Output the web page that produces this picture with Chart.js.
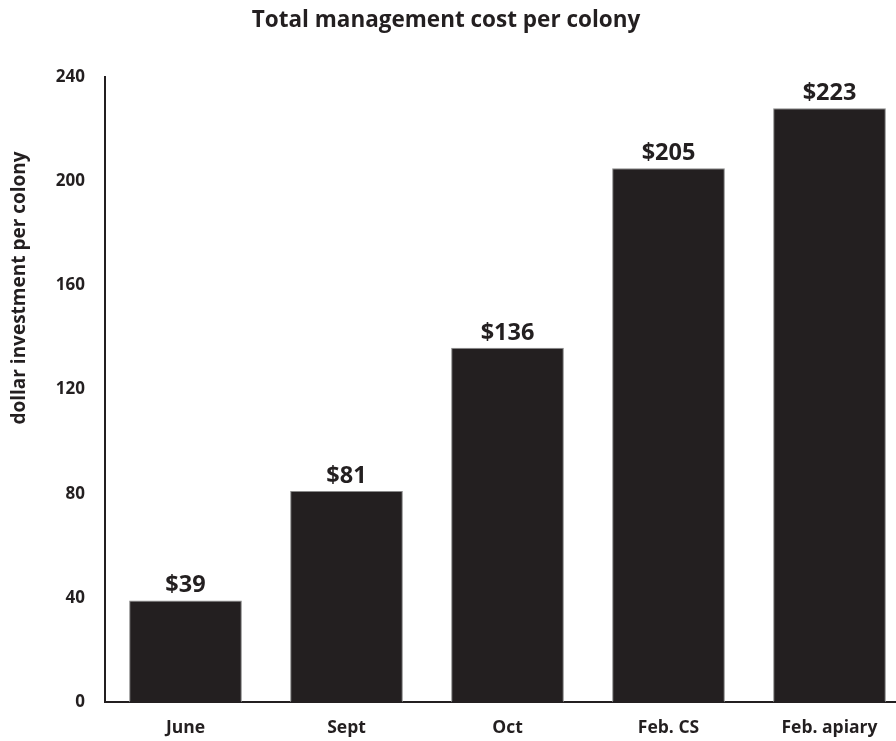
<!DOCTYPE html>
<html>
<head>
<meta charset="utf-8">
<script src="https://cdn.jsdelivr.net/npm/chart.js@4"></script>
<style>
  html, body { margin: 0; padding: 0; background: #fff; overflow: hidden; }
  #wrap { width: 910px; height: 741px; position: relative; }
</style>
</head>
<body>
<div id="wrap"><canvas id="c"></canvas></div>
<script>
// values
const categories = ['June', 'Sept', 'Oct', 'Feb. CS', 'Feb. apiary'];
const barValues = [39, 81, 136, 205, 228];
const valueLabels = ['$39', '$81', '$136', '$205', '$223'];
const yTicks = [0, 40, 80, 120, 160, 200, 240];

const FONT = "'Open Sans', 'Liberation Sans', sans-serif";
const INK = '#231f20';

// title, y axis title and value labels drawn by hand
const annotate = {
  id: 'annotate',
  afterDatasetsDraw(chart) {
    const c = chart.ctx;
    c.save();
    c.fillStyle = INK;
    c.textAlign = 'center';

    c.font = 'bold 22.5px ' + FONT;
    c.textBaseline = 'middle';
    c.fillText('Total management cost per colony', 446, 21);

    c.save();
    c.translate(20, 288);
    c.rotate(-Math.PI / 2);
    c.font = 'bold 19px ' + FONT;
    c.fillText('dollar investment per colony', 0, 0);
    c.restore();

    c.font = 'bold 23.5px ' + FONT;
    c.textBaseline = 'alphabetic';
    chart.getDatasetMeta(0).data.forEach((bar, i) => {
      c.fillText(valueLabels[i], bar.x, bar.y - 8);
    });
    c.restore();
  }
};

new Chart(document.getElementById('c'), {
  type: 'bar',
  data: {
    labels: categories,
    datasets: [{
      data: barValues,
      backgroundColor: INK,
      borderColor: '#8a8a8a',
      borderWidth: 1,
      barPercentage: 0.7,
      categoryPercentage: 1
    }]
  },
  options: {
    responsive: true,
    maintainAspectRatio: false,
    animation: false,
    layout: { padding: { top: 77, left: 0, right: 0, bottom: 0 } },
    plugins: { legend: { display: false }, tooltip: { enabled: false } },
    scales: {
      x: {
        grid: { display: false, drawTicks: false },
        border: { color: INK, width: 2 },
        ticks: { color: INK, font: { family: FONT, size: 17.5, weight: 'bold' }, padding: 16 },
        afterFit: s => { s.height = 39; }
      },
      y: {
        min: 0, max: 240,
        afterBuildTicks: s => { s.ticks = yTicks.map(v => ({ value: v })); },
        grid: { display: false, drawTicks: false },
        border: { color: INK, width: 2 },
        ticks: { color: INK, font: { family: FONT, size: 17, weight: 'bold' }, padding: 20 },
        afterFit: s => { s.width = 105; }
      }
    }
  },
  plugins: [annotate]
});
</script>
</body>
</html>
